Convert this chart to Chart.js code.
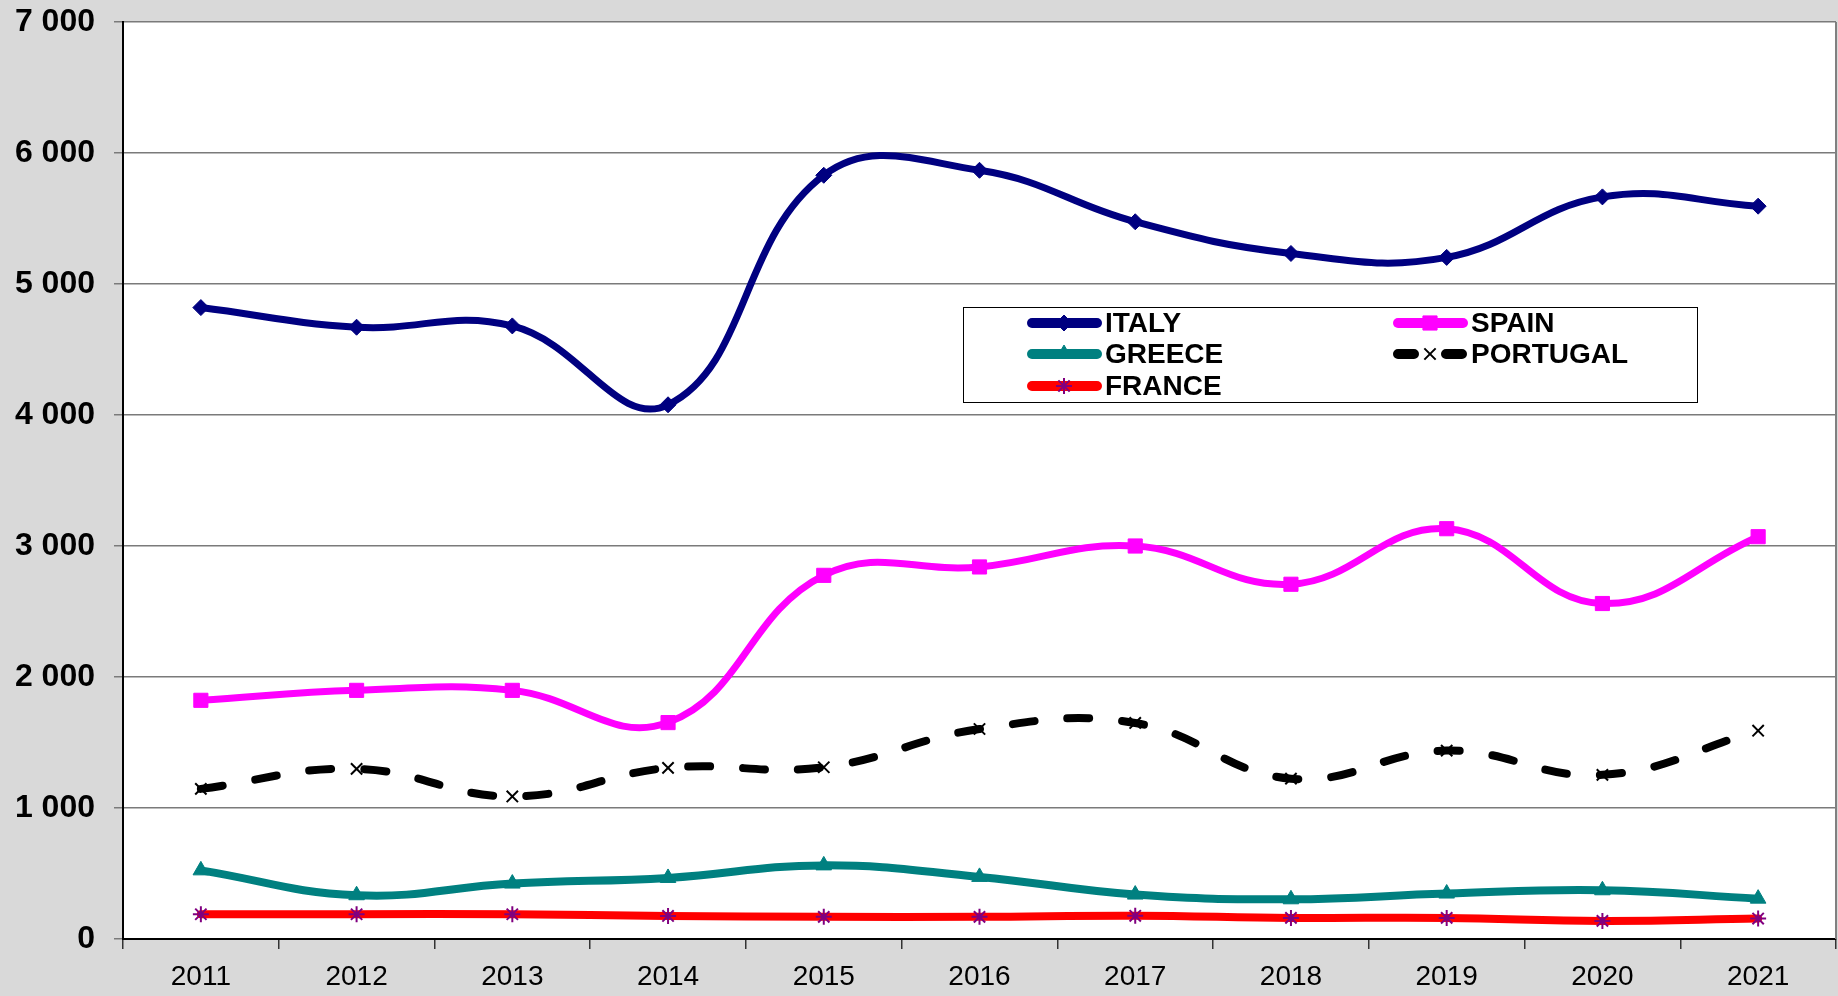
<!DOCTYPE html>
<html>
<head>
<meta charset="utf-8">
<script src="https://cdn.jsdelivr.net/npm/chart.js@4.4.1/dist/chart.umd.min.js"></script>
<style>
  html, body { margin: 0; padding: 0; background: #d9d9d9; }
  #wrap { width: 1838px; height: 996px; }
</style>
</head>
<body>
<div id="wrap"><canvas id="chart" width="1838" height="996"></canvas></div>
<script>
// data
const years = ["2011","2012","2013","2014","2015","2016","2017","2018","2019","2020","2021"];
const italy    = [4820, 4670, 4680, 4078, 5830, 5868, 5475, 5233, 5203, 5665, 5594];
const spain    = [1822, 1898, 1898, 1652, 2776, 2840, 3000, 2708, 3132, 2561, 3071];
const portugal = [1146, 1299, 1088, 1306, 1311, 1603, 1649, 1224, 1438, 1253, 1590];
const greece   = [ 524,  334,  423,  466,  562,  474,  339,  303,  347,  372,  308];
const france   = [ 189,  189,  189,  176,  169,  169,  177,  161,  161,  138,  156];
const yTicks   = [0, 1000, 2000, 3000, 4000, 5000, 6000, 7000];

function fmt(v){ return String(v).replace(/\B(?=(\d{3})+(?!\d))/g, " "); }

function series(label, data, color, o){
  return Object.assign({
    label, data,
    borderColor: color,
    backgroundColor: color,
    pointBorderColor: color,
    pointBackgroundColor: color,
    borderWidth: 7,
    tension: 0.42,
    borderCapStyle: "round",
    borderJoinStyle: "round",
    pointBorderWidth: 1,
    fill: false
  }, o || {});
}

const datasets = [
  series("ITALY", italy, "#000080", { pointStyle: "rectRot", pointRadius: 8 }),
  series("SPAIN", spain, "#ff00ff", { pointStyle: "rect", pointRadius: 10 }),
  series("GREECE", greece, "#008080", { pointStyle: "triangle", pointRadius: 9, borderWidth: 8 }),
  series("PORTUGAL", portugal, "#000000", { pointStyle: "crossRot", pointRadius: 8, pointBorderWidth: 2,
    borderWidth: 8, borderDash: [22, 33] }),
  series("FRANCE", france, "#ff0000", { pointStyle: "star", pointRadius: 8, pointBorderWidth: 2,
    pointBorderColor: "#800080", pointBackgroundColor: "#800080", borderWidth: 8 })
];

// white plot area + thin frame on the right
const plotBg = {
  id: "plotBg",
  beforeDraw(chart){
    const { ctx, chartArea: a } = chart;
    ctx.save();
    ctx.fillStyle = "#ffffff";
    ctx.fillRect(a.left, a.top, a.right - a.left, a.bottom - a.top);
    ctx.restore();
  },
  afterDraw(chart){
    const { ctx, chartArea: a } = chart;
    ctx.save();
    ctx.strokeStyle = "#808080";
    ctx.lineWidth = 2;
    ctx.beginPath();
    ctx.moveTo(a.right, a.top); ctx.lineTo(a.right, a.bottom);
    ctx.stroke();
    ctx.restore();
  }
};

// boxed legend sitting inside the plot
const boxLegend = {
  id: "boxLegend",
  afterDatasetsDraw(chart){
    const ctx = chart.ctx;
    const box = { x: 963, y: 307, w: 734, h: 95 };
    const cols = [1027, 1393];
    const rows = [323, 354, 386];
    ctx.save();
    ctx.fillStyle = "#ffffff";
    ctx.fillRect(box.x, box.y, box.w, box.h);
    ctx.strokeStyle = "#000000";
    ctx.lineWidth = 1;
    ctx.strokeRect(box.x + 0.5, box.y + 0.5, box.w, box.h);
    chart.data.datasets.forEach((ds, i) => {
      const x = cols[i % 2], y = rows[Math.floor(i / 2)];
      ctx.save();
      ctx.strokeStyle = ds.borderColor;
      ctx.lineWidth = 10;
      ctx.lineCap = "round";
      if (ds.borderDash) ctx.setLineDash([16, 32]);
      ctx.beginPath();
      ctx.moveTo(x + 5, y); ctx.lineTo(x + 70, y);
      ctx.stroke();
      ctx.restore();
      ctx.save();
      ctx.strokeStyle = ds.pointBorderColor;
      ctx.fillStyle = ds.pointBackgroundColor;
      ctx.lineWidth = ds.pointBorderWidth;
      Chart.helpers.drawPoint(ctx, { pointStyle: ds.pointStyle, radius: ds.pointRadius, rotation: 0, borderWidth: ds.pointBorderWidth }, x + 37, y);
      ctx.restore();
      ctx.fillStyle = "#000000";
      ctx.font = "bold 28px 'Liberation Sans', Arial, sans-serif";
      ctx.textBaseline = "middle";
      ctx.textAlign = "left";
      ctx.fillText(ds.label, x + 78, y + 1);
    });
    ctx.restore();
  }
};

new Chart(document.getElementById("chart"), {
  type: "line",
  data: { labels: years, datasets },
  plugins: [plotBg, boxLegend],
  options: {
    responsive: false,
    animation: false,
    layout: { autoPadding: false, padding: { top: 22, right: 2, left: 0, bottom: 0 } },
    plugins: { legend: { display: false }, tooltip: { enabled: false } },
    scales: {
      x: {
        offset: true,
        grid: { display: true, drawOnChartArea: false, drawTicks: true, tickLength: 10, offset: true, color: "#333333", lineWidth: 1.5 },
        border: { display: true, color: "#000000", width: 2 },
        ticks: { color: "#000000", padding: 11, font: { family: "'Liberation Sans', Arial, sans-serif", size: 28 } },
        afterFit(scale){ scale.height = 57; scale.paddingLeft = 0; scale.paddingRight = 0; }
      },
      y: {
        min: 0, max: 7000,
        afterBuildTicks(scale){ scale.ticks = yTicks.map(v => ({ value: v })); },
        grid: { color: "#7a7a7a", lineWidth: 1.5, tickLength: 9, tickColor: "#7a7a7a" },
        border: { display: true, color: "#000000", width: 2 },
        ticks: { color: "#000000", padding: 19, callback: v => fmt(v),
          font: { family: "'Liberation Sans', Arial, sans-serif", size: 32, weight: "bold" } },
        afterFit(scale){ scale.width = 123; scale.paddingTop = 0; scale.paddingBottom = 0; }
      }
    }
  }
});
</script>
</body>
</html>
